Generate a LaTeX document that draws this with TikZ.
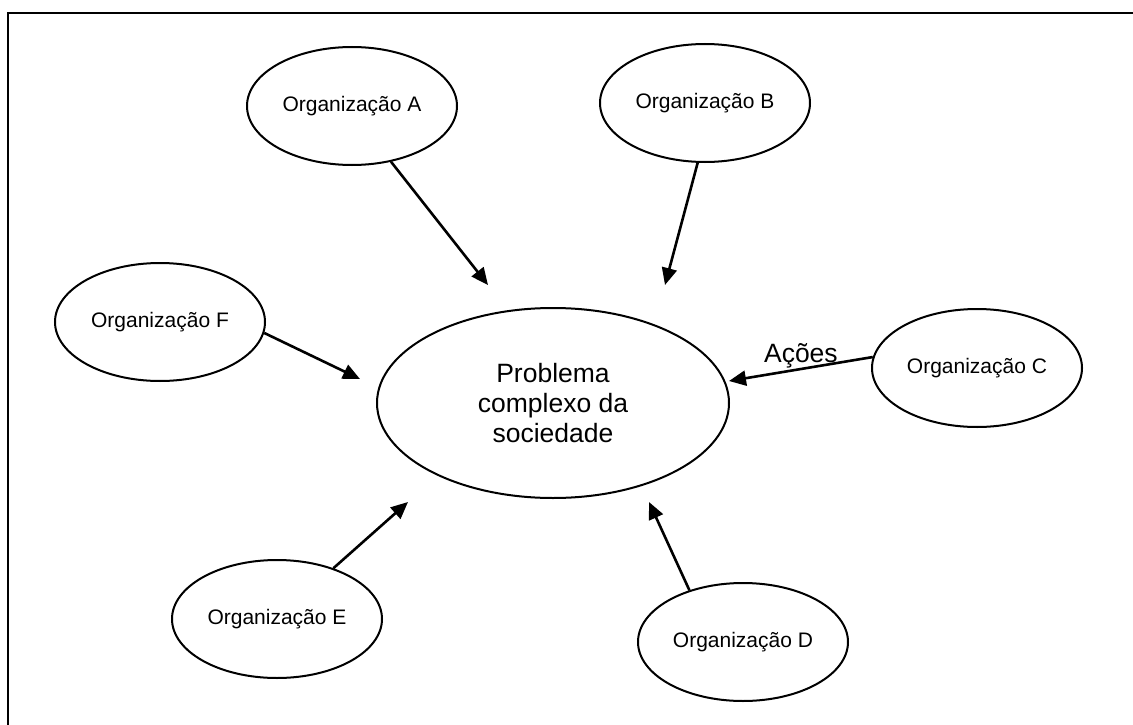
\documentclass[tikz,border=0pt]{standalone}
\usepackage{fontspec}
\setmainfont{Liberation Sans}
\usetikzlibrary{shapes.geometric,arrows.meta}
\tikzset{
  org/.style={ellipse, draw, line width=2pt, inner sep=0pt,
    minimum width=210pt, minimum height=118pt,
    font=\fontsize{21}{25}\selectfont},
  prob/.style={ellipse, draw, line width=2pt, inner sep=0pt,
    minimum width=352pt, minimum height=190pt, align=center,
    font=\fontsize{26.5}{30}\selectfont},
  acao/.style={line width=2.6pt, -{Triangle[length=17pt,width=15pt]}},
  frame/.style={line width=2.6pt}
}
\begin{document}
\begin{tikzpicture}[x=1pt,y=-1pt]
\useasboundingbox (0,0) rectangle (1133,725);
\coordinate (fbl) at (8,726);
\coordinate (ftl) at (8,13);
\coordinate (ftr) at (1134,13);
\draw[frame] (fbl) -- (ftl) -- (ftr);

\node[prob] (p) at (553,403) {Problema\\complexo da\\sociedade};
\node[org] (a) at (352,106) {Organização A};
\node[org] (b) at (705,103) {Organização B};
\node[org] (c) at (977,368) {Organização C};
\node[org] (d) at (743,642) {Organização D};
\node[org] (e) at (277,619) {Organização E};
\node[org] (f) at (160,322) {Organização F};

\coordinate (ta) at (488,285);
\coordinate (tb) at (665,285);
\coordinate (tc) at (729,381);
\coordinate (td) at (649,502);
\coordinate (te) at (408,502);
\coordinate (tf) at (360,379);

\draw[acao] (a.-55) -- (ta);
\draw[acao] (b.-97) -- (tb);
\draw[acao] (c.174) -- (tc)
  node[pos=0.5, anchor=base, yshift=7pt, font=\fontsize{26.5}{30}\selectfont] {Ações};
\draw[acao] (d.136) -- (td);
\draw[acao] (e.42) -- (te);
\draw[acao] (f.-6) -- (tf);
\end{tikzpicture}
\end{document}
